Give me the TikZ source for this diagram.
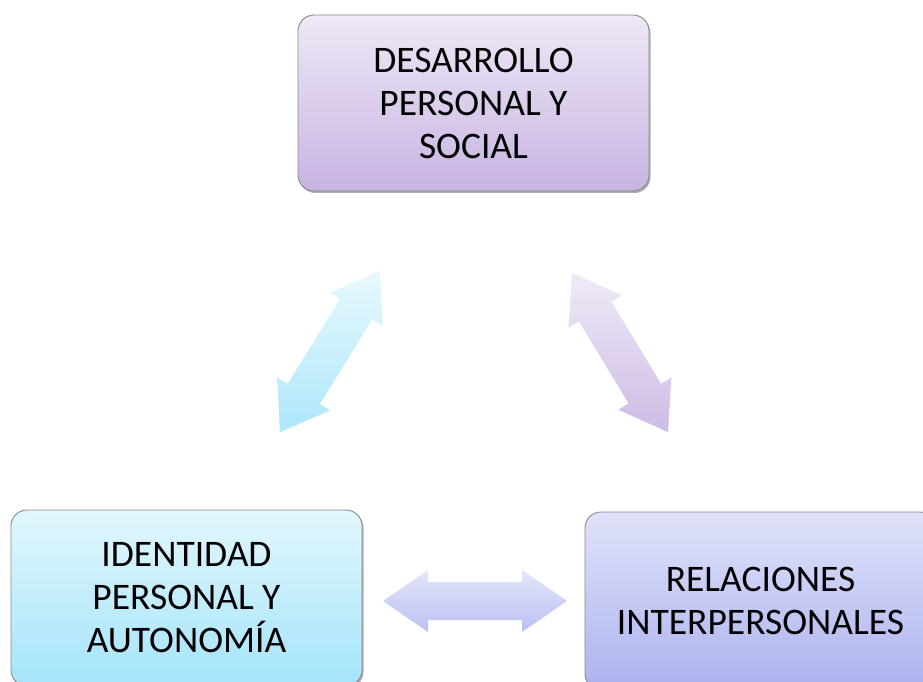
\documentclass[tikz,border=0pt]{standalone}
\usepackage{fontspec}
\setmainfont{Carlito}
\usetikzlibrary{shadows}
\definecolor{topA}{HTML}{EEE8F6}
\definecolor{topB}{HTML}{C7B4E2}
\definecolor{leftA}{HTML}{E2F7FD}
\definecolor{leftB}{HTML}{A4E4FA}
\definecolor{rightA}{HTML}{E0E2F9}
\definecolor{rightB}{HTML}{ACB2EF}
\definecolor{bordergray}{HTML}{8A8A8A}
\tikzset{
  box/.style={draw=bordergray, line width=0.9pt, rounded corners=16pt,
    align=center, inner sep=0pt,
    font=\fontsize{37.5}{43}\selectfont,
    drop shadow={shadow xshift=1.5pt, shadow yshift=-2pt, opacity=0.45, fill=black!70}},
}
% double block arrow: center x, center y, angle, length, top colour, bottom colour
\newcommand{\dblarrow}[6]{%
  \begin{scope}[shift={(#1,#2)}, rotate=#3]
    \pgfmathsetmacro{\hl}{#4/2}
    \shade[top color=#5, bottom color=#6, draw=none]
      (-\hl,0) -- (-\hl+45,31) -- (-\hl+45,19) -- (\hl-45,19) -- (\hl-45,31)
      -- (\hl,0) -- (\hl-45,-31) -- (\hl-45,-19) -- (-\hl+45,-19) -- (-\hl+45,-31) -- cycle;
  \end{scope}}
\begin{document}
\begin{tikzpicture}[x=1pt,y=1pt]
\useasboundingbox (0,0) rectangle (923,681);
\clip (0,0) rectangle (923,681);
\fill[white] (0,0) rectangle (923,681);

\node[box, top color=topA, bottom color=topB, minimum width=351pt, minimum height=176pt]
  (dps) at (473.5,578) {DESARROLLO\\PERSONAL Y\\SOCIAL};
\node[box, top color=leftA, bottom color=leftB, minimum width=351pt, minimum height=176pt]
  (ipa) at (186.5,83) {IDENTIDAD\\PERSONAL Y\\AUTONOMÍA};
\node[box, top color=rightA, bottom color=rightB, minimum width=351pt, minimum height=178pt]
  (rip) at (760.5,80) {RELACIONES\\INTERPERSONALES};

\dblarrow{330}{329.5}{58.2}{190}{leftA!80!white}{leftB!90!white}
\dblarrow{620}{328.5}{-58.9}{186}{topA!90!white}{topB!90!white}
\dblarrow{475}{80}{0}{184}{rightA!90!white}{rightB!70!rightA}
\end{tikzpicture}
\end{document}
